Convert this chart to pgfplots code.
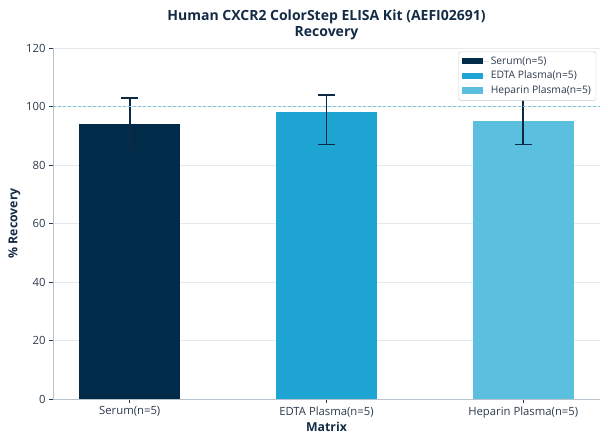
\documentclass[border=0pt]{standalone}
\usepackage{fontspec}
\setmainfont{Open Sans}
\usepackage{pgfplots}
\pgfplotsset{compat=1.18}
\definecolor{cSerum}{HTML}{002B49}
\definecolor{cEDTA}{HTML}{1FA5D3}
\definecolor{cHep}{HTML}{5BBFE0}
\definecolor{cErr}{HTML}{0D2A45}
\definecolor{cTxt}{HTML}{2B3A4C}
\definecolor{cTitle}{HTML}{142B45}
\definecolor{cAx}{HTML}{B8C2CC}
\definecolor{cGrid}{HTML}{E6EAEE}
\definecolor{cRef}{HTML}{7CC3D6}
\begin{document}
\begin{tikzpicture}[x=1pt,y=1pt]
\useasboundingbox (0,0) rectangle (608,444);
\begin{axis}[
  at={(53pt,45pt)}, anchor=south west,
  scale only axis, width=547pt, height=351pt,
  xmin=-0.39, xmax=2.39, ymin=0, ymax=120,
  xtick={0,1,2},
  xticklabels={Serum(n=5),EDTA Plasma(n=5),Heparin Plasma(n=5)},
  ytick={0,20,40,60,80,100,120},
  /pgf/number format/assume math mode=true,
  tick label style={font=\fontsize{11.3}{13}\selectfont, color=cTxt},
  axis lines*=left,
  axis line style={cAx, line width=0.8pt, -},
  tick style={cTxt, line width=0.6pt},
  major tick length=4pt,
  tick align=outside,
  ymajorgrids, grid style={cGrid, line width=0.8pt},
  xlabel={\bfseries Matrix},
  ylabel={\bfseries\% Recovery},
  label style={font=\fontsize{12.3}{14}\selectfont, color=cTitle},
  xlabel style={yshift=3pt},
  ylabel style={yshift=-1pt},
  title={\bfseries Human CXCR2 ColorStep ELISA Kit (AEFI02691)\\\bfseries Recovery},
  title style={align=center, font=\fontsize{14}{15.5}\selectfont, color=cTitle, yshift=-1pt},
  ybar, bar width=0.515, bar shift=0pt,
  legend style={at={(0.993,0.99)}, anchor=north east, draw=cGrid!70!gray, rounded corners=1.5pt,
    font=\fontsize{10.3}{12}\selectfont, text=cTxt, fill=white, row sep=1.5pt, inner xsep=3pt, inner ysep=3pt},
  legend cell align=left,
  legend image code/.code={\fill[#1, sharp corners] (0pt,-3.3pt) rectangle (21pt,3.3pt); \path (0pt,0pt) -- (27pt,0pt);},
  error bars/y dir=both, error bars/y explicit,
  error bars/error bar style={cErr, line width=1.6pt},
  error bars/error mark options={rotate=90, mark size=8.5pt, cErr, line width=1.6pt},
]
\addplot[fill=cSerum, draw=none] coordinates {(0,94) += (0,9) -= (0,9)};
\addplot[fill=cEDTA, draw=none] coordinates {(1,98) += (0,6) -= (0,11)};
\addplot[fill=cHep, draw=none] coordinates {(2,95) += (0,8) -= (0,8)};
\legend{Serum(n=5),EDTA Plasma(n=5),Heparin Plasma(n=5)}
\draw[cRef, dashed, line width=0.8pt, dash pattern=on 3pt off 2pt] (axis cs:-0.39,100) -- (axis cs:2.39,100);
\end{axis}
\end{tikzpicture}
\end{document}
